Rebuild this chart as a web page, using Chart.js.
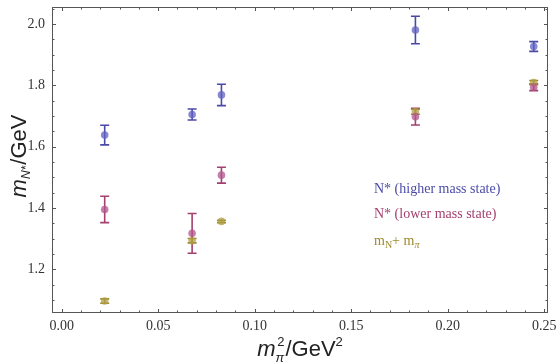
<!DOCTYPE html>
<html>
<head>
<meta charset="utf-8">
<script src="https://cdn.jsdelivr.net/npm/chart.js@4.4.1/dist/chart.umd.min.js"></script>
<style>
  html, body { margin: 0; padding: 0; background: #fff; }
  #wrap { width: 556px; height: 363px; }
</style>
</head>
<body>
<div id="wrap"><canvas id="chart"></canvas></div>
<script>
// m_pi^2 in GeV^2
const mPi2 = [0.0223, 0.0676, 0.0828, 0.1833, 0.2446];
// N* higher mass state
const higherMass = [1.638, 1.705, 1.769, 1.981, 1.927];
const higherErr = [0.032, 0.018, 0.035, 0.045, 0.016];
// N* lower mass state
const lowerMass = [1.395, 1.317, 1.507, 1.698, 1.794];
const lowerErr = [0.043, 0.065, 0.026, 0.027, 0.011];
// m_N + m_pi threshold
const threshold = [1.096, 1.293, 1.356, 1.714, 1.809];
const thresholdErr = [0.007, 0.007, 0.004, 0.008, 0.007];

const xTicks = [0, 0.05, 0.10, 0.15, 0.20, 0.25];
const yTicks = [1.2, 1.4, 1.6, 1.8, 2.0];

const SERIF = '"Liberation Serif", "DejaVu Serif", serif';
const SANS = '"Liberation Sans", Arial, sans-serif';

const BLUE = '#4a4aa6';
const MAGENTA = '#a3406f';
const OLIVE = '#9b8a2c';

function toPoints(xs, ys) {
  return xs.map((x, i) => ({ x: x, y: ys[i] }));
}

const series = [
  { label: 'N* (higher mass state)', ys: higherMass, errs: higherErr, color: BLUE, fill: 'rgba(96,96,196,0.75)' },
  { label: 'N* (lower mass state)', ys: lowerMass, errs: lowerErr, color: MAGENTA, fill: 'rgba(178,84,140,0.75)' },
  { label: 'mN+ mpi', ys: threshold, errs: thresholdErr, color: OLIVE, fill: 'rgba(176,158,70,0.75)' },
];

// error bars drawn under the markers
const errorBars = {
  id: 'errorBars',
  beforeDatasetsDraw(chart) {
    const { ctx, scales: { x, y } } = chart;
    ctx.save();
    ctx.lineWidth = 1.6;
    series.forEach((s) => {
      ctx.strokeStyle = s.color;
      mPi2.forEach((xv, i) => {
        const px = x.getPixelForValue(xv);
        const top = y.getPixelForValue(s.ys[i] + s.errs[i]);
        const bot = y.getPixelForValue(s.ys[i] - s.errs[i]);
        ctx.beginPath();
        ctx.moveTo(px, top); ctx.lineTo(px, bot);
        ctx.moveTo(px - 4.5, top); ctx.lineTo(px + 4.5, top);
        ctx.moveTo(px - 4.5, bot); ctx.lineTo(px + 4.5, bot);
        ctx.stroke();
      });
    });
    ctx.restore();
  }
};

function drawRuns(ctx, runs, x, y) {
  // runs: [{text, font, dy}] drawn left to right from x
  runs.forEach((r) => {
    ctx.font = r.font;
    ctx.fillText(r.text, x, y + (r.dy || 0));
    x += ctx.measureText(r.text).width + (r.gap || 0);
  });
  return x;
}

function runsWidth(ctx, runs) {
  let w = 0;
  runs.forEach((r) => { ctx.font = r.font; w += ctx.measureText(r.text).width + (r.gap || 0); });
  return w;
}

const frameAndLabels = {
  id: 'frameAndLabels',
  afterDraw(chart) {
    const { ctx, chartArea: a, scales: { x, y } } = chart;
    ctx.save();
    ctx.strokeStyle = '#555';
    ctx.lineWidth = 1;
    ctx.strokeRect(a.left + 0.5, a.top + 0.5, a.width - 1, a.height - 1);

    ctx.beginPath();
    for (let i = 0; i <= 25; i++) {
      const px = Math.round(x.getPixelForValue(i * 0.01)) + 0.5;
      const len = i % 5 === 0 ? 4 : 2.5;
      ctx.moveTo(px, a.bottom); ctx.lineTo(px, a.bottom - len);
      ctx.moveTo(px, a.top); ctx.lineTo(px, a.top + len);
    }
    for (let i = 22; i <= 41; i++) {
      const py = Math.round(y.getPixelForValue(i * 0.05)) + 0.5;
      if (py < a.top || py > a.bottom) continue;
      const len = i % 4 === 0 ? 4 : 2.5;
      ctx.moveTo(a.left, py); ctx.lineTo(a.left + len, py);
      ctx.moveTo(a.right, py); ctx.lineTo(a.right - len, py);
    }
    ctx.stroke();

    // legend text inside the plot
    ctx.textBaseline = 'alphabetic';
    ctx.textAlign = 'left';
    const lx = 374;
    ctx.fillStyle = BLUE;
    ctx.font = '14px ' + SERIF;
    ctx.fillText('N* (higher mass state)', lx, 193);
    ctx.fillStyle = MAGENTA;
    ctx.fillText('N* (lower mass state)', lx, 218);
    ctx.fillStyle = OLIVE;
    drawRuns(ctx, [
      { text: 'm', font: '14px ' + SERIF },
      { text: 'N', font: '10px ' + SERIF, dy: 3 },
      { text: '+ m', font: '14px ' + SERIF },
      { text: 'π', font: 'italic 10px ' + SERIF, dy: 3 },
    ], lx, 245);

    // axis titles
    ctx.fillStyle = '#222';
    const xr = [
      { text: 'm', font: 'italic 22px ' + SANS },
      { text: 'π', font: 'italic 13px ' + SANS, dy: 6, gap: -7 },
      { text: '2', font: '13px ' + SANS, dy: -10, gap: 1 },
      { text: '/GeV', font: '22px ' + SANS },
      { text: '2', font: '13px ' + SANS, dy: -10 },
    ];
    const xw = runsWidth(ctx, xr);
    drawRuns(ctx, xr, (a.left + a.right) / 2 - xw / 2, 356);

    const yr = [
      { text: 'm', font: 'italic 22px ' + SANS },
      { text: 'N*', font: 'italic 12px ' + SANS, dy: 4, gap: 1 },
      { text: '/GeV', font: '22px ' + SANS },
    ];
    const yw = runsWidth(ctx, yr);
    ctx.translate(26, (a.top + a.bottom) / 2 - 4);
    ctx.rotate(-Math.PI / 2);
    drawRuns(ctx, yr, -yw / 2, 0);
    ctx.restore();
  }
};

function noPad(scale) {
  scale.paddingLeft = 0;
  scale.paddingRight = 0;
  scale.paddingTop = 0;
  scale.paddingBottom = 0;
}

new Chart(document.getElementById('chart'), {
  type: 'scatter',
  data: {
    datasets: series.map((s) => ({
      label: s.label,
      data: toPoints(mPi2, s.ys),
      pointRadius: 3.8,
      pointHoverRadius: 3.8,
      pointBackgroundColor: s.fill,
      pointBorderWidth: 0,
      showLine: false,
    }))
  },
  options: {
    responsive: true,
    maintainAspectRatio: false,
    animation: false,
    devicePixelRatio: 1,
    layout: { padding: { top: 7, right: 8, left: 0, bottom: 0 } },
    plugins: {
      legend: { display: false },
      tooltip: { enabled: false },
    },
    scales: {
      x: {
        type: 'linear',
        min: -0.005,
        max: 0.252,
        afterFit: (scale) => { scale.height = 50; noPad(scale); },
        afterBuildTicks: (scale) => { scale.ticks = xTicks.map((v) => ({ value: v })); },
        grid: { display: false, drawTicks: false },
        border: { display: false },
        ticks: {
          padding: 5,
          color: '#333',
          font: { family: SERIF, size: 14 },
          callback: (v) => v.toFixed(2),
        },
      },
      y: {
        type: 'linear',
        min: 1.057,
        max: 2.056,
        afterFit: (scale) => { scale.width = 52; noPad(scale); },
        afterBuildTicks: (scale) => { scale.ticks = yTicks.map((v) => ({ value: v })); },
        grid: { display: false, drawTicks: false },
        border: { display: false },
        ticks: {
          padding: 7,
          color: '#333',
          font: { family: SERIF, size: 14 },
          callback: (v) => v.toFixed(1),
        },
      },
    },
  },
  plugins: [errorBars, frameAndLabels],
});
</script>
</body>
</html>
